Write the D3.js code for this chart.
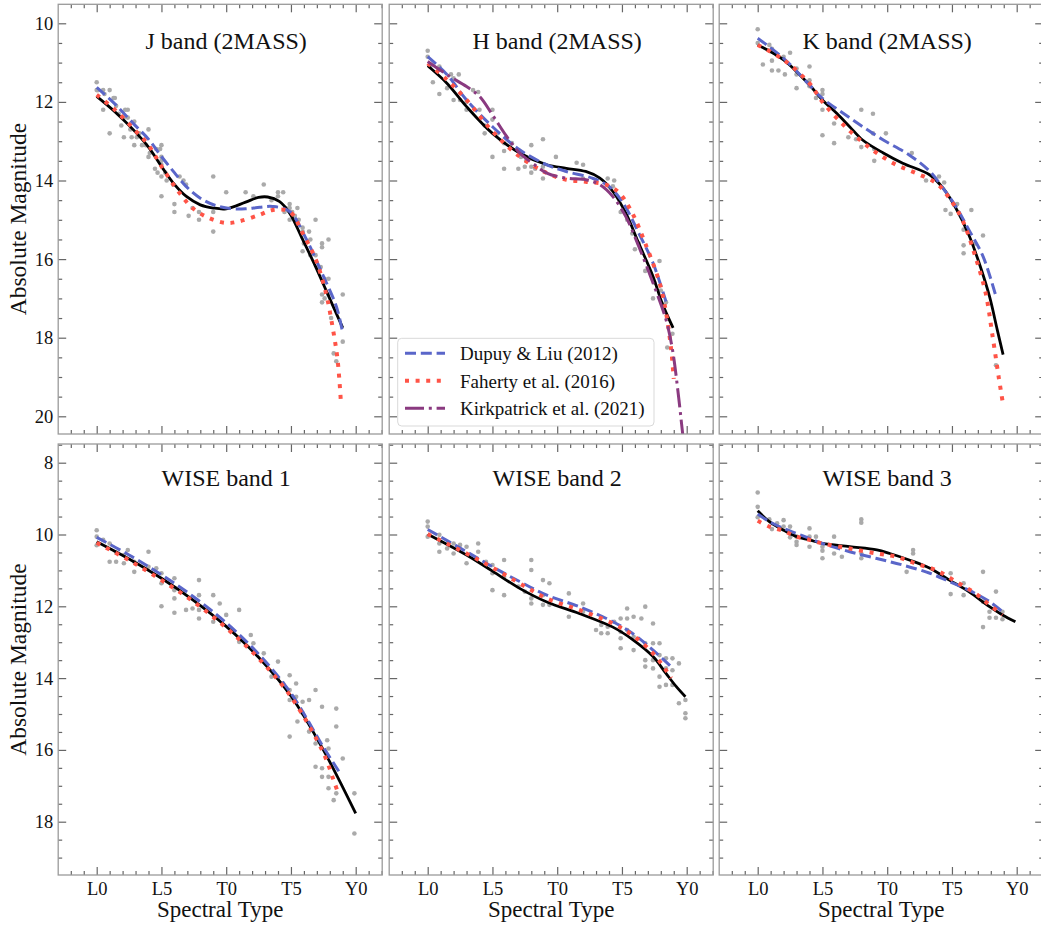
<!DOCTYPE html>
<html><head><meta charset="utf-8">
<script src="https://cdn.jsdelivr.net/npm/d3@7"></script>
<style>body{margin:0;background:#fff}</style>
</head><body><svg id="c" width="1041" height="928"></svg>
<script>
// ---------- DATA ----------
const xTickValues = [0, 5, 10, 15, 20];
const xTickLabels = ["L0", "L5", "T0", "T5", "Y0"];
const titles = ["J band (2MASS)", "H band (2MASS)", "K band (2MASS)", "WISE band 1", "WISE band 2", "WISE band 3"];
const legendLabels = ["Dupuy & Liu (2012)", "Faherty et al. (2016)", "Kirkpatrick et al. (2021)"];
const yTicksTop = [10, 12, 14, 16, 18, 20];
const yTicksBottom = [8, 10, 12, 14, 16, 18];

// J band
const jPoints = [[0,11.5],[0,11.7],[0.1,11.7],[0.5,11.7],[0.6,11.8],[1,11.7],[1.3,11.9],[0.5,12.2],[1,12.8],[1.4,11.9],[1.5,12.1],[1.7,12.3],[2.2,12.2],[2.1,12.4],[1.9,12.6],[2.1,12.9],[2.4,12.4],[2.4,12.2],[2.6,12.7],[2.7,12.9],[2.9,12.5],[2.9,13.1],[3.1,12.9],[3.3,12.8],[3.5,13.1],[3.8,13.1],[4,12.7],[4,13.4],[4.1,13.3],[4.6,13.2],[4.9,13.2],[5,13.4],[5,13.1],[5,13.5],[5,13.6],[5,13.9],[5,14.4],[4.5,13.7],[4.7,13.8],[5.3,13.8],[5.4,14],[5.9,14.1],[6,14.6],[6,14.8],[6.4,13.9],[6.7,14],[6.9,14.1],[7.1,14.9],[7.4,14.7],[7.9,14.8],[7.9,15],[9,13.9],[9,14.8],[9,15.3],[10,14.3],[11.5,14.3],[12.1,14.4],[12.9,14.1],[13.5,14.5],[14,14.3],[14,14.4],[14.4,14.3],[14.5,14.8],[14.6,14.7],[14.9,14.6],[14.9,14.7],[14.9,15],[15.1,14.8],[15.3,14.9],[15.5,14.7],[15.6,15],[15.9,15.2],[15.9,15.3],[16,15.6],[15.9,15.8],[16.4,15.3],[16.5,15.5],[16.5,15.9],[16.9,15],[16.9,15.9],[17.1,16.2],[17.3,16.2],[17.4,15.6],[17.4,15.7],[17.6,16.5],[17.4,16.9],[17.4,17.1],[17.6,17],[17.9,15.5],[17.9,16.5],[17.9,16.9],[18.1,17.5],[18.3,18.4],[18.5,18.6],[19,16.9],[19,18.1]];
const jThis = [[0,11.86],[1.4,12.25],[2.8,12.7],[4,13.15],[5,13.64],[6,14.1],[6.9,14.4],[8,14.62],[9,14.7],[10,14.72],[11.5,14.55],[12.5,14.43],[13.2,14.42],[14.1,14.53],[14.9,14.83],[15.9,15.5],[16.9,16.19],[17.8,16.86],[19,17.75]];
const jDupuy = [[0,11.63],[1.4,12.05],[2.8,12.54],[4,12.95],[5,13.39],[6,13.8],[6.9,14.15],[8,14.45],[9.2,14.64],[10.5,14.72],[11.5,14.72],[12.6,14.68],[13.6,14.66],[14.9,14.79],[16.2,15.5],[17.4,16.36],[18.5,17.2],[19,17.88]];
const jFaherty = [[0,11.82],[1.4,12.2],[2.8,12.67],[4,13.1],[5,13.64],[6.4,14.32],[7.4,14.7],[8.7,14.96],[10,15.08],[11,15.04],[12.6,14.87],[13.6,14.75],[14.9,14.79],[15.9,15.34],[16.9,16.0],[17.7,16.86],[18.2,17.7],[18.6,18.56],[18.85,19.6]];

// H band
const hPoints = [[0,10.7],[0,10.85],[0.2,11.1],[0.4,11.5],[0.9,11.1],[0.9,11.8],[1.5,11.65],[1.8,11.3],[2,11.4],[2,11.95],[2.4,11.3],[2.5,11.95],[3,12],[3,12.2],[3.5,11.7],[3.9,11.75],[4,12.2],[4.4,12.6],[4.4,12.8],[5,12.2],[5,12.45],[5,13.4],[5.4,12.8],[5.9,13.05],[5.9,13.25],[5.9,13.7],[6.5,13.05],[7,13.7],[7.2,13.4],[7.5,13.65],[7.6,13.5],[8,13.1],[8,13.65],[8,13.8],[8.3,13.7],[8.9,12.95],[8.9,13.65],[8.9,13.95],[9.9,13.4],[11.5,13.55],[12,13.6],[12,13.95],[13.9,13.95],[14.4,14],[14.3,14.15],[14.9,14.8],[15.4,15],[15.8,15.35],[16,15.75],[16.3,15.6],[16.8,16.3],[17,16.25],[17.5,16.6],[17.9,16.05],[17.4,17],[18,16.8],[18.4,17.1],[18.9,17.9],[18.5,18.25]];
const hThis = [[0,11.08],[1.5,11.53],[3,12.12],[5,12.8],[7.1,13.3],[9.2,13.6],[10.7,13.69],[12.2,13.77],[13.3,13.94],[14.3,14.28],[15.3,14.83],[16.3,15.6],[17.4,16.44],[18.1,17.12],[18.95,17.75]];
const hDupuy = [[0,10.85],[1.5,11.31],[3,11.95],[5,12.63],[7.1,13.22],[9.2,13.6],[10.7,13.77],[12.7,13.94],[14,14.15],[15.1,14.58],[16.3,15.34],[17.4,16.1],[18.4,17.08]];
const hFaherty = [[0,11.02],[1.5,11.44],[3,11.95],[5,12.75],[7.1,13.39],[9.2,13.81],[10.7,13.98],[12.2,14.03],[13.8,14.11],[14.8,14.32],[15.8,14.83],[16.8,15.6],[17.9,16.6],[18.4,17.35],[18.8,18.3],[19.0,19.05]];
const hKirk = [[0,10.97],[1.5,11.31],[3,11.61],[4,11.86],[5,12.33],[6.1,12.88],[7.1,13.3],[8.1,13.56],[9.2,13.81],[10.7,13.94],[12.2,13.98],[13.3,14.11],[14.3,14.41],[15.3,14.92],[16.3,15.68],[17.4,16.61],[18.4,17.54],[18.9,18.3],[19.4,19.58],[19.7,20.47],[20,21.2]];

// K band
const kPoints = [[0,10.15],[0,10.5],[0.4,11.05],[0.9,10.55],[1.1,10.65],[1.1,10.95],[1.1,11.2],[1.5,10.8],[1.6,11.2],[2,10.85],[2.1,11.3],[2.5,10.75],[3,11.15],[3,11.3],[3,11.65],[4,11.1],[4,11.45],[4,11.6],[4.5,11.9],[5,11.7],[5,11.8],[5,12.2],[5,12.85],[5.9,12.55],[5.9,13.05],[7,12.9],[7.6,12.95],[8,12.2],[8,13.15],[8.9,12.3],[8.9,12.8],[9,13.2],[9,13.5],[9.9,12.8],[11.9,13.3],[13,14],[14,13.9],[14.4,14.05],[14.5,14.75],[14.9,14.85],[15.4,14.6],[15.9,15.25],[15.9,15.65],[15.9,15.85],[16.5,14.75],[16.8,15.6],[17.4,15.4],[18.4,18.7]];
const kThis = [[0,10.55],[2,10.93],[4,11.57],[5,11.95],[6.1,12.29],[7.1,12.63],[8.1,12.97],[9.7,13.3],[11.2,13.56],[13.3,13.86],[14.3,14.19],[15.3,14.7],[16.3,15.38],[17.1,16.1],[17.9,16.95],[18.5,17.8],[18.95,18.43]];
const kDupuy = [[0,10.38],[2,10.89],[4,11.57],[5,11.91],[6.6,12.29],[8.1,12.63],[9.7,12.97],[11.7,13.35],[13.3,13.77],[14.3,14.19],[15.3,14.66],[16.3,15.25],[17.4,15.93],[18.4,16.95]];
const kFaherty = [[0,10.55],[2,10.93],[4,11.53],[5,12.0],[6.6,12.58],[7.9,12.97],[9.2,13.3],[10.7,13.6],[12.2,13.81],[13.8,14.07],[14.8,14.45],[15.8,15.0],[16.8,15.93],[17.6,16.86],[18.1,17.88],[18.6,18.98],[18.9,19.6]];

// WISE band 1
const w1Points = [[0,9.88],[0,10.06],[0,10.3],[0.5,10.15],[1,10.25],[1,10.76],[1.5,10.5],[1.5,10.76],[2.1,10.57],[2.1,10.8],[2.4,10.43],[2.9,10.76],[2.9,11.04],[4,10.48],[4,10.9],[4.6,10.94],[5,11.08],[5,11.36],[5,12],[6,11.22],[6,11.55],[6,11.78],[6,12.18],[6.9,12.1],[7.4,12.06],[7.9,11.27],[7.9,11.69],[7.9,12.1],[7.9,12.34],[9,11.69],[9,12.43],[9.5,11.92],[10,12.24],[11,12.1],[11,12.99],[11.9,12.8],[12.1,13.03],[12.9,13.31],[13.5,13.96],[14,13.54],[14,14],[14.4,14.15],[14.9,13.92],[14.9,14.33],[14.9,14.61],[14.9,15.63],[15.4,14.15],[15.4,14.52],[15.5,15.21],[15.9,14.66],[15.9,14.98],[16.4,14.61],[16.4,15.49],[16.9,14.33],[16.9,15.82],[17.4,14.8],[17.4,16.51],[17.4,16.75],[17.8,15.73],[17.9,17.07],[18.3,17.4],[18.5,17.21],[18.5,14.85],[18.5,15.35],[19,16.24],[19.9,17.21],[19.9,18.33],[17.9,15.96],[16.9,16.47],[17.9,16.75]];
const w1This = [[0,10.2],[2.5,10.68],[5,11.22],[7.5,11.84],[10,12.56],[12.5,13.42],[15,14.5],[17.5,16.0],[20,17.77]];
const w1Dupuy = [[0,10.08],[2.5,10.57],[5,11.12],[7.5,11.74],[10,12.46],[12.5,13.33],[15,14.42],[17.5,15.92],[18.85,16.68]];
const w1Faherty = [[0,10.23],[2.5,10.72],[5,11.27],[7.5,11.88],[10,12.6],[12.5,13.45],[15,14.52],[17.5,16.08],[18.3,16.85],[18.7,17.26]];

// WISE band 2
const w2Points = [[0,9.64],[0,9.78],[0,10.06],[0.9,10.01],[0.9,10.25],[0.9,10.48],[1.5,10.39],[2,10.25],[2,10.53],[2.5,10.29],[3,10.34],[3,10.8],[3.9,10.25],[3.9,10.48],[4.5,10.76],[5,10.85],[5,11.08],[5,11.55],[5.9,10.71],[5.9,11.18],[5.9,11.69],[7,11.45],[7.5,11.59],[8,10.71],[8,10.99],[8,11.78],[8,11.92],[8.9,11.27],[8.9,11.69],[8.9,11.96],[9.4,11.36],[9.4,11.96],[10.9,11.64],[10.9,12.29],[12,11.92],[12,12.15],[13,12.66],[13.4,12.52],[13.4,12.75],[13.9,12.57],[13.9,12.75],[14.4,12.43],[14.9,12.34],[14.9,12.71],[14.9,12.89],[14.9,13.17],[15.4,12.06],[15.4,12.34],[15.4,12.66],[15.9,12.29],[15.9,12.85],[15.9,13.22],[16.5,12.34],[16.8,12.01],[16.8,13.03],[16.8,13.5],[16.8,13.68],[17.4,12.48],[17.4,13.03],[17.4,13.5],[17.4,13.73],[17.9,13.03],[17.9,13.36],[17.9,13.96],[17.9,14.24],[18.4,13.45],[18.4,13.73],[18.4,14.19],[18.9,13.45],[18.9,13.78],[18.9,14.19],[19.4,13.59],[19.4,14.7],[19.9,14.61],[19.9,14.98],[19.9,15.12]];
const w2This = [[0,9.99],[3,10.57],[5,11.02],[7.1,11.5],[9.2,11.88],[11.7,12.2],[14.3,12.58],[15.8,12.92],[17.4,13.4],[18.4,13.87],[19.2,14.24],[19.9,14.52]];
const w2Dupuy = [[0,9.86],[3,10.48],[5,10.9],[7.1,11.31],[9.2,11.69],[11.7,12.01],[14.3,12.43],[15.8,12.75],[17.4,13.22],[18.85,13.7]];
const w2Faherty = [[0,9.99],[3,10.53],[5,10.92],[7.1,11.36],[9.2,11.78],[11.7,12.1],[14.3,12.48],[15.8,12.8],[17.4,13.31],[18.4,13.78],[18.8,14.0]];

// WISE band 3
const w3Points = [[0,8.83],[0,9.23],[0,9.52],[0.9,9.58],[1.1,9.85],[1.5,9.69],[2,9.6],[2,9.78],[2.5,9.78],[2.5,10.08],[3,10.06],[3,10.2],[3,10.29],[4,9.83],[4,10.06],[4,10.34],[4.5,10.06],[5,10.34],[5,10.45],[5,10.66],[5.9,10.06],[5.9,10.53],[6.5,10.62],[8,9.58],[8,9.67],[8,10.53],[8,10.66],[11.5,11.04],[12,10.43],[12,10.53],[14.9,11.08],[14.9,11.66],[15.9,11.36],[15.9,11.69],[17.4,11.04],[17.4,11.87],[17.4,12.58],[17.9,12.15],[17.9,12.32],[18.4,11.59],[18.4,12.32],[18.9,12.15],[18.9,12.36]];
const w3This = [[0,9.34],[0.9,9.64],[2,9.88],[3,10.06],[4,10.15],[5,10.25],[7.1,10.34],[9.2,10.43],[10.2,10.53],[11.7,10.71],[13.3,10.94],[14.8,11.27],[16.3,11.59],[17.9,12.01],[18.9,12.24],[19.9,12.43]];
const w3Dupuy = [[0,9.43],[0.9,9.64],[2,9.83],[3,9.97],[4,10.11],[5,10.25],[7.1,10.48],[9.2,10.67],[11.2,10.85],[13.3,11.08],[14.8,11.31],[16.3,11.55],[17.9,11.87],[18.9,12.15]];
const w3Faherty = [[0,9.62],[0.9,9.78],[2,9.9],[3,10.06],[4,10.15],[5,10.25],[7.1,10.39],[9.2,10.53],[10.7,10.62],[12.2,10.81],[13.8,11.0],[15.3,11.31],[16.8,11.64],[17.9,11.96],[18.9,12.24]];

// ---------- CHART ----------
const FONT = "'Liberation Serif','Times New Roman',Times,serif";
const svg = d3.select('#c').style('font-family', FONT);

const styles = {
  dupuy:   {stroke: '#5a66c9', width: 3, dash: '11,4.8', cap: 'butt'},
  faherty: {stroke: '#ff5447', width: 4, dash: '4,6.6', cap: 'butt'},
  kirk:    {stroke: '#8a3a80', width: 3, dash: '19,4.8,3,4.8', cap: 'butt'},
  self:    {stroke: '#000000', width: 2.8, dash: null, cap: 'butt'}
};

const colL0 = [96.7, 427.7, 757.7];
const pxPerType = 12.95;
const rows = [
  {top: 4.3, bottom: 434, d: [10, 20], r: [23.3, 416.3], majors: yTicksTop, titleOff: 45, labelY: 219},
  {top: 444, bottom: 875, d: [8, 18], r: [462.7, 821.7], majors: yTicksBottom, titleOff: 42, labelY: 659.5}
];

const panels = [
  {points: jPoints, lines: [['self', jThis], ['dupuy', jDupuy], ['faherty', jFaherty]]},
  {points: hPoints, lines: [['self', hThis], ['dupuy', hDupuy], ['faherty', hFaherty], ['kirk', hKirk]]},
  {points: kPoints, lines: [['self', kThis], ['dupuy', kDupuy], ['faherty', kFaherty]]},
  {points: w1Points, lines: [['self', w1This], ['dupuy', w1Dupuy], ['faherty', w1Faherty]]},
  {points: w2Points, lines: [['self', w2This], ['dupuy', w2Dupuy], ['faherty', w2Faherty]]},
  {points: w3Points, lines: [['self', w3This], ['dupuy', w3Dupuy], ['faherty', w3Faherty]]}
];

const defs = svg.append('defs');

panels.forEach((p, i) => {
  const row = rows[Math.floor(i / 3)], col = i % 3;
  const left = colL0[col] - 38.5, right = left + 324;
  const x = d3.scaleLinear().domain([0, 20]).range([colL0[col], colL0[col] + 20 * pxPerType]);
  const y = d3.scaleLinear().domain(row.d).range(row.r);
  const xDom = [x.invert(left), x.invert(right)];
  const yDom = [y.invert(row.top), y.invert(row.bottom)];
  const xMinor = d3.range(Math.ceil(xDom[0]), Math.floor(xDom[1]) + 1).filter(v => v % 5 !== 0);
  const yMinor = d3.range(Math.ceil(yDom[0] * 2), Math.floor(yDom[1] * 2) + 1).map(v => v / 2).filter(v => v % 2 !== 0);

  const g = svg.append('g');
  const cid = 'clip' + i;
  defs.append('clipPath').attr('id', cid).append('rect')
    .attr('x', left).attr('y', row.top).attr('width', right - left).attr('height', row.bottom - row.top);

  const plot = g.append('g').attr('clip-path', `url(#${cid})`);
  plot.selectAll('circle').data(p.points).join('circle')
    .attr('cx', d => x(d[0])).attr('cy', d => y(d[1])).attr('r', 2.3).attr('fill', '#aaaaaa');

  const line = d3.line().x(d => x(d[0])).y(d => y(d[1])).curve(d3.curveCatmullRom.alpha(0.5));
  p.lines.forEach(([key, data]) => {
    const s = styles[key];
    plot.append('path').datum(data).attr('d', line).attr('fill', 'none')
      .attr('stroke', s.stroke).attr('stroke-width', s.width)
      .attr('stroke-dasharray', s.dash).attr('stroke-linecap', s.cap);
  });

  // title
  g.append('text').attr('x', x(10)).attr('y', row.top + row.titleOff)
    .attr('text-anchor', 'middle').attr('font-size', 24).attr('fill', '#111').text(titles[i]);

  // axes
  const styleAxis = (sel, labels) => {
    sel.select('.domain').remove();
    sel.selectAll('line').attr('stroke', '#666').attr('stroke-width', 1.2);
    sel.selectAll('text').attr('font-family', FONT).attr('font-size', 18.5).attr('fill', '#111');
    if (!labels) sel.selectAll('text').remove();
  };
  const isBottom = i >= 3, isLeft = col === 0;
  g.append('g').attr('transform', `translate(0,${row.bottom})`)
    .call(d3.axisBottom(x).tickValues(xTickValues).tickSize(-8).tickPadding(6.5).tickFormat((d, k) => xTickLabels[k]))
    .call(s => styleAxis(s, isBottom));
  g.append('g').attr('transform', `translate(0,${row.bottom})`)
    .call(d3.axisBottom(x).tickValues(xMinor).tickSize(-4).tickFormat(''))
    .call(s => styleAxis(s, false));
  g.append('g').attr('transform', `translate(0,${row.top})`)
    .call(d3.axisTop(x).tickValues(xTickValues).tickSize(-8))
    .call(s => styleAxis(s, false));
  g.append('g').attr('transform', `translate(0,${row.top})`)
    .call(d3.axisTop(x).tickValues(xMinor).tickSize(-4))
    .call(s => styleAxis(s, false));
  g.append('g').attr('transform', `translate(${left},0)`)
    .call(d3.axisLeft(y).tickValues(row.majors).tickSize(-8).tickPadding(5).tickFormat(d3.format('d')))
    .call(s => styleAxis(s, isLeft));
  g.append('g').attr('transform', `translate(${left},0)`)
    .call(d3.axisLeft(y).tickValues(yMinor).tickSize(-4))
    .call(s => styleAxis(s, false));
  g.append('g').attr('transform', `translate(${right},0)`)
    .call(d3.axisRight(y).tickValues(row.majors).tickSize(-8))
    .call(s => styleAxis(s, false));
  g.append('g').attr('transform', `translate(${right},0)`)
    .call(d3.axisRight(y).tickValues(yMinor).tickSize(-4))
    .call(s => styleAxis(s, false));

  // frame
  g.append('rect').attr('x', left).attr('y', row.top).attr('width', right - left).attr('height', row.bottom - row.top)
    .attr('fill', 'none').attr('stroke', '#9a9a9a').attr('stroke-width', 1.3);

  if (isBottom) {
    g.append('text').attr('x', (left + right) / 2).attr('y', 917).attr('text-anchor', 'middle')
      .attr('font-size', 23).attr('fill', '#111').text('Spectral Type');
  }
  if (isLeft) {
    g.append('text').attr('transform', `translate(26,${row.labelY}) rotate(-90)`).attr('text-anchor', 'middle')
      .attr('font-size', 23.5).attr('fill', '#111').text('Absolute Magnitude');
  }

  if (i === 1) {
    const lg = g.append('g');
    lg.append('rect').attr('x', 397.7).attr('y', 338.3).attr('width', 256.3).attr('height', 87.7)
      .attr('rx', 4).attr('fill', 'white').attr('fill-opacity', 0.85).attr('stroke', '#d9d9d9').attr('stroke-width', 1);
    ['dupuy', 'faherty', 'kirk'].forEach((k, j) => {
      const cy = 353.3 + j * 27.5, s = styles[k];
      lg.append('line').attr('x1', 405).attr('x2', 445).attr('y1', cy).attr('y2', cy)
        .attr('stroke', s.stroke).attr('stroke-width', s.width).attr('stroke-dasharray', s.dash);
      lg.append('text').attr('x', 460).attr('y', cy + 7).attr('font-size', 19).attr('fill', '#111').text(legendLabels[j]);
    });
  }
});
</script></body></html>
